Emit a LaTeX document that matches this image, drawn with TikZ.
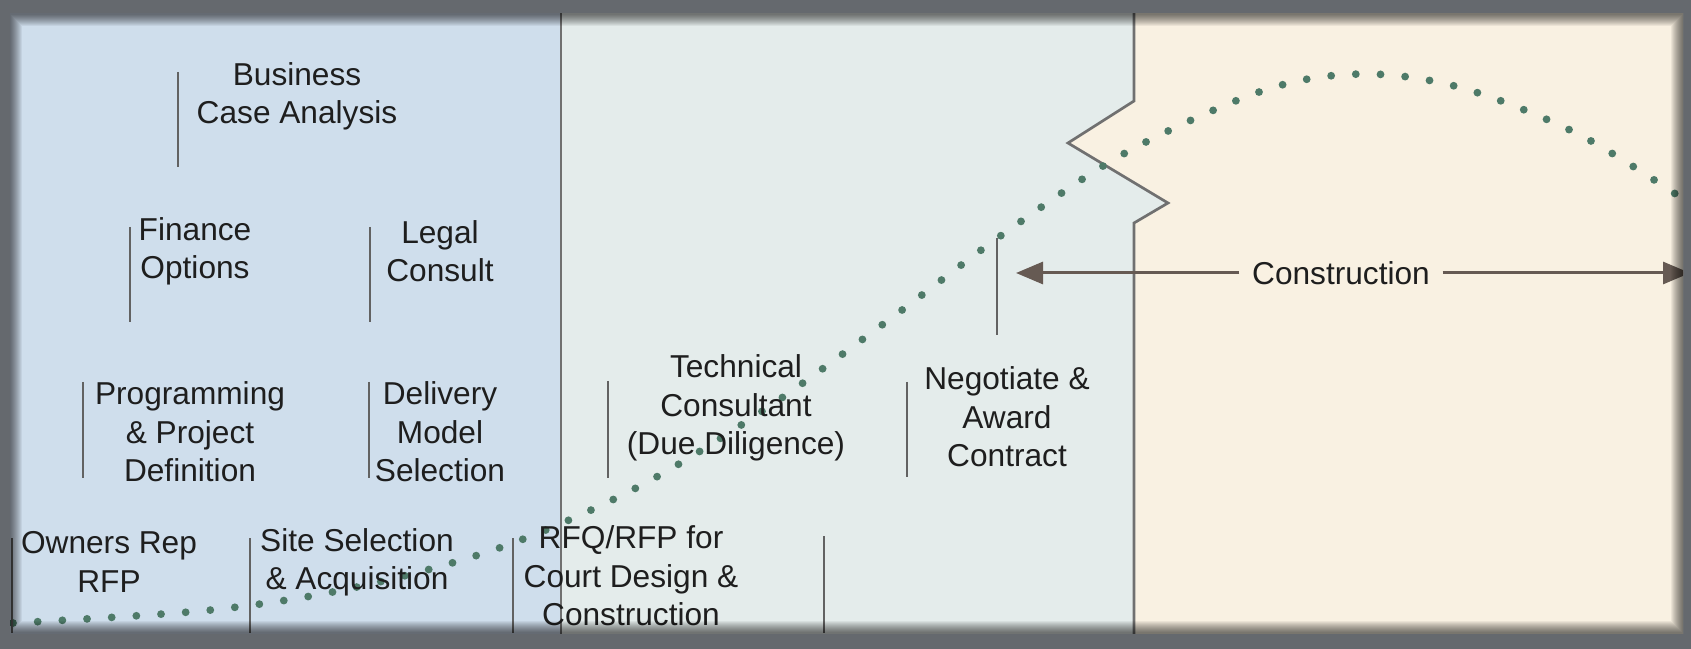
\documentclass[tikz,border=0pt]{standalone}
\usepackage{fontspec}
\setmainfont{Liberation Sans}
\usetikzlibrary{arrows.meta,positioning}

\definecolor{framegray}{HTML}{65696E}
\definecolor{leftblue}{HTML}{CFDEEC}
\definecolor{midgreen}{HTML}{E4ECEB}
\definecolor{rightcream}{HTML}{F9F1E2}
\definecolor{linegray}{HTML}{707070}
\definecolor{bargray}{HTML}{626262}
\definecolor{txtgray}{HTML}{1E1E1E}
\definecolor{dotgreen}{HTML}{4E7A68}
\definecolor{arrbrown}{HTML}{665A53}

\begin{document}
\begin{tikzpicture}[x=0.01cm, y=-0.01cm,
    lbl/.style={align=center, inner sep=0pt, text=txtgray, font=\fontsize{9}{10.9}\selectfont},
    bar/.style={draw=bargray, line width=0.022cm},
    arr/.style={draw=arrbrown, line width=0.03cm, -{Triangle[length=0.27cm, width=0.22cm]}}]

  % frame
  \fill[framegray] (0,0) rectangle (1691,649);
  \begin{scope}
    \clip (10,14) rectangle (1683,633);

    % the three phases
    \fill[leftblue] (0,0) rectangle (561,649);
    \fill[rightcream] (1060,0) rectangle (1691,649);
    \fill[midgreen] (561,0) -- (1134,0) -- (1134,101) -- (1068,143) -- (1168,203)
      -- (1134,223) -- (1134,649) -- (561,649) -- cycle;
    \draw[linegray, line width=0.022cm] (561,0) -- (561,649);
    \draw[linegray, line width=0.027cm] (1134,0) -- (1134,101) -- (1068,143) -- (1168,203)
      -- (1134,223) -- (1134,649);

    % dotted curve
    \draw[dotgreen, line width=0.078cm, line cap=round, dash pattern=on 0pt off 0.247cm]
      plot[smooth, tension=0.55] coordinates {(13,623) (211,610) (357,587) (502,547)
      (638,487) (764,410) (886,322) (1006,232) (1127,152) (1265,90) (1363,74)
      (1462,88) (1578,134) (1683,199)};

    % bars
    \draw[bar] (178,72) -- (178,167);
    \draw[bar] (130,227) -- (130,322);
    \draw[bar] (370,227) -- (370,322);
    \draw[bar] (83,382) -- (83,478);
    \draw[bar] (369,382) -- (369,478);
    \draw[bar] (12,538) -- (12,633);
    \draw[bar] (250,538) -- (250,633);
    \draw[bar] (513,538) -- (513,633);
    \draw[bar] (824,536) -- (824,633);
    \draw[bar] (608,381) -- (608,478);
    \draw[bar] (907,382) -- (907,477);
    \draw[bar] (997,238) -- (997,335);

    % labels
    \node[lbl] (bca) at (297,96) {Business\\Case Analysis};
    \node[lbl] (fin) at (195,251) {Finance\\Options};
    \node[lbl] (legal) at (440,251) {Legal\\Consult};
    \node[lbl] (prog) at (190,432) {Programming\\\& Project\\Definition};
    \node[lbl] (deliv) at (440,432) {Delivery\\Model\\Selection};
    \node[lbl] (owner) at (109,562) {Owners Rep\\RFP};
    \node[lbl] (site) at (357,562) {Site Selection\\\& Acquisition};
    \node[lbl] (rfq) at (631,576) {RFQ/RFP for\\Court Design \&\\Construction};
    \node[lbl] (tech) at (736,408) {Technical\\Consultant\\(Due Diligence)};
    \node[lbl] (nego) at (1007,417) {Negotiate \&\\Award\\Contract};

    % construction span
    \coordinate (cl) at (1016,273);
    \coordinate (cr) at (1690,273);
    \node[lbl, inner xsep=0.12cm] (constr) at (1341,273) {Construction};
    \draw[arr] (constr) -- (cl);
    \draw[arr] (constr) -- (cr);

    % inner shadow
    \foreach \w in {2,4,...,24}
      \draw[black, opacity=0.055, line width=\w*0.01cm] (10,14) rectangle (1683,633);
  \end{scope}
\end{tikzpicture}
\end{document}
